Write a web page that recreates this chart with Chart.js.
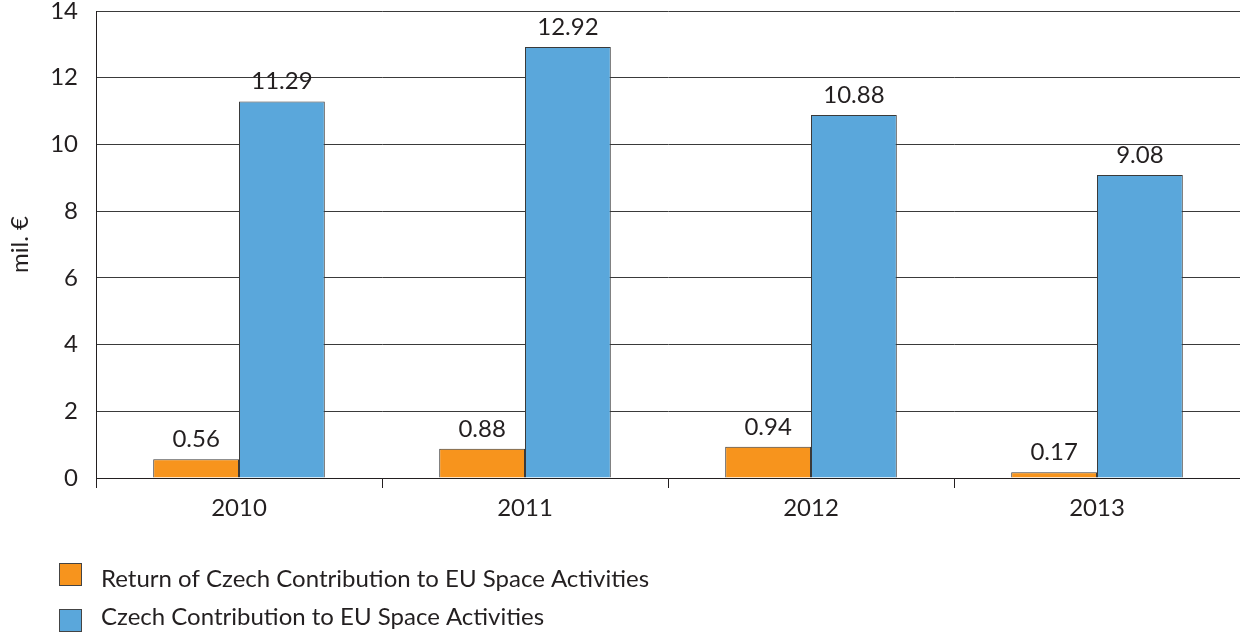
<!DOCTYPE html>
<html>
<head>
<meta charset="utf-8">
<script src="https://cdn.jsdelivr.net/npm/chart.js@4"></script>
<style>
  html, body { margin: 0; padding: 0; background: #fff; }
  #wrap { width: 1240px; height: 632px; position: relative; }
</style>
</head>
<body>
<div id="wrap"><canvas id="c"></canvas></div>
<script>
const years = ['2010', '2011', '2012', '2013'];
const returnValues = [0.56, 0.88, 0.94, 0.17];
const contributionValues = [11.29, 12.92, 10.88, 9.08];
const seriesNames = [
  'Return of Czech Contribution to EU Space Activities',
  'Czech Contribution to EU Space Activities'
];
const yTicks = [0, 2, 4, 6, 8, 10, 12, 14];
const yTitle = 'mil. €';

const FONT = 'Lato, "Open Sans", sans-serif';
const SIZE = 24;
const TEXT = '#231f20';

// value labels above each bar
const valueLabels = {
  id: 'valueLabels',
  afterDatasetsDraw(chart) {
    const ctx = chart.ctx;
    ctx.save();
    ctx.font = SIZE + 'px ' + FONT;
    ctx.fillStyle = TEXT;
    ctx.textAlign = 'center';
    ctx.textBaseline = 'alphabetic';
    chart.data.datasets.forEach((ds, i) => {
      chart.getDatasetMeta(i).data.forEach((bar, j) => {
        ctx.fillText(ds.data[j].toFixed(2), bar.x, bar.y - 12);
      });
    });
    ctx.restore();
  }
};

// stacked legend under the plot: one swatch + label per row
const stackedLegend = {
  id: 'stackedLegend',
  afterDraw(chart) {
    const ctx = chart.ctx;
    const swatchTops = [563, 609];
    const textBaselines = [587, 625];
    ctx.save();
    ctx.font = SIZE + 'px ' + FONT;
    ctx.textBaseline = 'alphabetic';
    chart.data.datasets.forEach((ds, i) => {
      const top = swatchTops[i];
      ctx.fillStyle = ds.backgroundColor;
      ctx.fillRect(59.5, top + 0.5, 22, 22);
      ctx.strokeStyle = '#444';
      ctx.lineWidth = 1;
      ctx.strokeRect(59.5, top + 0.5, 22, 22);
      ctx.fillStyle = TEXT;
      ctx.fillText(ds.label, 101, textBaselines[i]);
    });
    ctx.restore();
  }
};

new Chart(document.getElementById('c'), {
  type: 'bar',
  data: {
    labels: years,
    datasets: [
      {
        label: seriesNames[0],
        data: returnValues,
        backgroundColor: '#f7941d',
        borderColor: '#3a3a3a',
        borderWidth: 1,
        borderSkipped: 'bottom'
      },
      {
        label: seriesNames[1],
        data: contributionValues,
        backgroundColor: '#5aa7db',
        borderColor: '#3a3a3a',
        borderWidth: 1,
        borderSkipped: 'bottom'
      }
    ]
  },
  options: {
    responsive: true,
    maintainAspectRatio: false,
    animation: false,
    layout: { padding: { left: 0, right: 0, top: 11, bottom: 94 } },
    datasets: { bar: { categoryPercentage: 0.6, barPercentage: 1.0 } },
    plugins: {
      legend: { display: false },
      tooltip: { enabled: false }
    },
    scales: {
      x: {
        offset: true,
        grid: {
          offset: true,
          drawOnChartArea: false,
          drawTicks: true,
          tickLength: 10,
          color: '#231f20'
        },
        border: { color: '#231f20', width: 1 },
        ticks: { font: { family: FONT, size: SIZE }, color: TEXT, padding: 6 },
        afterFit(s) { s.height = 60; }
      },
      y: {
        min: 0,
        max: 14,
        afterBuildTicks(s) { s.ticks = yTicks.map(v => ({ value: v })); },
        grid: { color: '#3a3a3a', drawTicks: false },
        border: { color: '#231f20', width: 1 },
        ticks: { font: { family: FONT, size: SIZE }, color: TEXT, padding: 18 },
        title: {
          display: true,
          text: yTitle,
          font: { family: FONT, size: SIZE },
          color: TEXT,
          padding: { top: 6, bottom: 0 }
        },
        afterFit(s) {
          s.width = 96;
          s.paddingTop = 0;
          s.paddingBottom = 0;
        }
      }
    }
  },
  plugins: [valueLabels, stackedLegend]
});
</script>
</body>
</html>
